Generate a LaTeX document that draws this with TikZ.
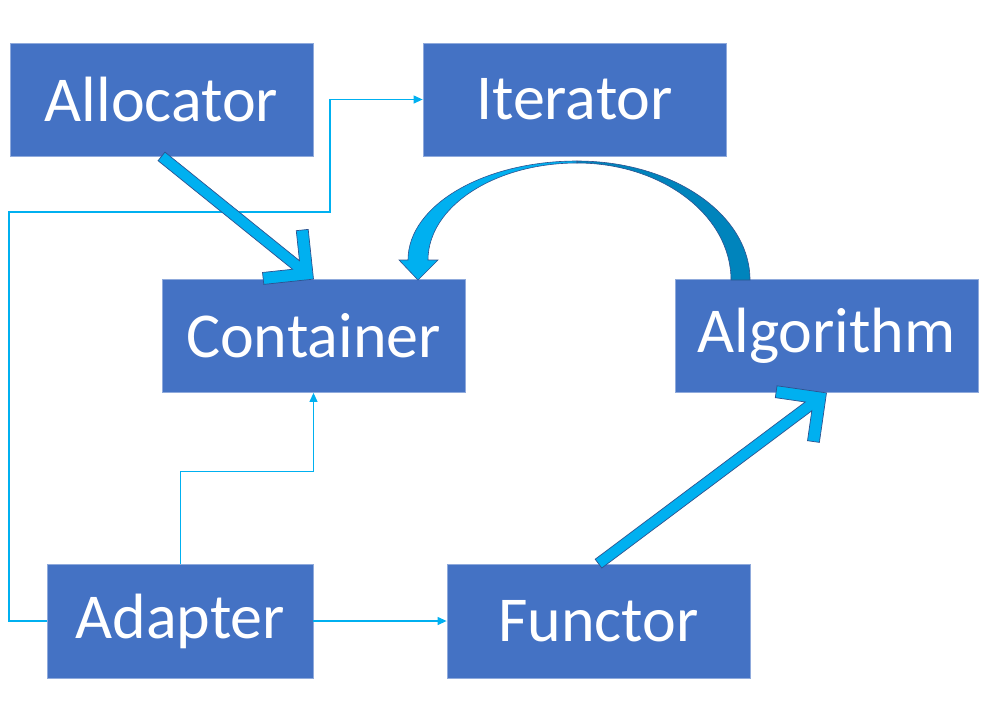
\documentclass[tikz,border=0pt]{standalone}
\usepackage{fontspec}
\setmainfont{Carlito}
\usetikzlibrary{calc,arrows.meta}
\definecolor{boxblue}{HTML}{4472C4}
\definecolor{boxedge}{HTML}{8FAADC}
\definecolor{cyanc}{HTML}{00B0F0}
\definecolor{darkc}{HTML}{0084BC}
\definecolor{outl}{HTML}{2F528F}
\tikzset{
  box/.style={fill=boxblue, draw=boxedge, line width=0.8pt, minimum width=303pt,
    minimum height=113pt, inner sep=0pt, text=white, font=\fontsize{64}{72}\selectfont},
  conn/.style={draw=cyanc, line width=1.2pt, -{Triangle[length=9pt,width=8pt]}},
  barrow/.style={fill=cyanc, draw=outl, line width=0.7pt, line join=miter},
  carrowlight/.style={fill=cyanc, draw=outl, line width=0.6pt},
  carrowdark/.style={fill=darkc, draw=outl, line width=0.6pt},
}
\newcommand\myblockarrow[2]{%
  \draw[barrow] (#2) -- ($(#2)!50pt!45:(#1)$) -- ($(#2)!51.42pt!31.5:(#1)$)
    -- ($(#2)!23.13pt!13.75:(#1)$) -- ($(#1)!5.5pt!-90:(#2)$)
    -- ($(#1)!5.5pt!90:(#2)$) -- ($(#2)!23.13pt!-13.75:(#1)$)
    -- ($(#2)!51.42pt!-31.5:(#1)$) -- ($(#2)!50pt!-45:(#1)$) -- cycle;}
\begin{document}
\begin{tikzpicture}[x=1pt,y=-1pt]
\useasboundingbox (0,0) rectangle (993,702);
\node[box] (allocator) at (161.5,99.5) {Allocator};
\node[box] (iterator) at (574.5,99.5) {Iterator};
\node[box] (container) at (313.5,336) {Container};
\node[box] (algorithm) at (826.5,336) {Algorithm};
\node[box, minimum width=265.5pt, minimum height=114pt] (adapter) at (180.25,621) {Adapter};
\node[box, minimum height=114pt] (functor) at (598.5,621) {Functor};

% thin connectors
\draw[conn] (adapter.west) -- (9,621) |- (330,212) |- (iterator.west);
\draw[conn] (adapter.north) -- ++(0,-92) -| (container.south);
\draw[conn] (adapter.east) -- (functor.west);

% block arrows
\myblockarrow{allocator.south}{container.north}
\myblockarrow{functor.north}{algorithm.south}

% curved arrow Algorithm -> Container
\draw[carrowdark] (577,161) .. controls (672.5,161) and (750,214.3) .. (750,280)
  -- (731,280) .. controls (731,215.4) and (662,163) .. (577,163) -- cycle;
\draw[carrowlight] (577,161) .. controls (483.7,161) and (408,205.4) .. (408,260)
  -- (399,260) -- (418,280) -- (438,260) -- (428,260)
  .. controls (428,206.5) and (494.8,163) .. (577,163) -- cycle;
\end{tikzpicture}
\end{document}
